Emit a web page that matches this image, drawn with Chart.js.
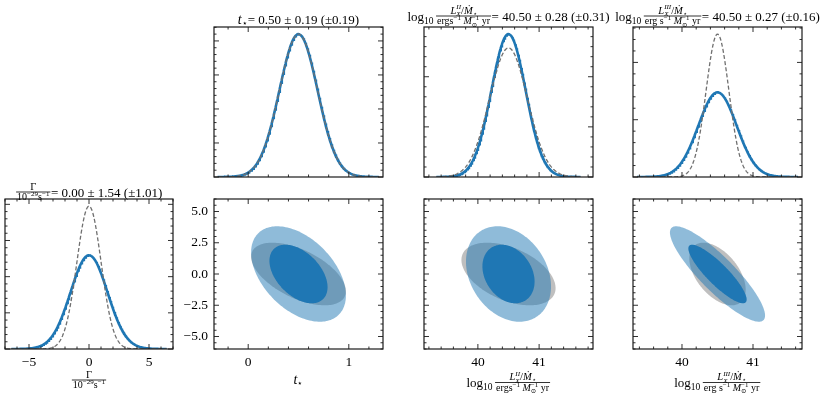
<!DOCTYPE html>
<html>
<head>
<meta charset="utf-8">
<script src="https://cdn.jsdelivr.net/npm/chart.js@4.4.1/dist/chart.umd.min.js"></script>
<style>
  body { margin: 0; background: #fff; }
  #wrap { position: relative; width: 822px; height: 401px; background: #fff; }
  #wrap canvas { position: absolute; left: 0; top: 0; pointer-events: none; }
</style>
</head>
<body>
<div id="wrap"></div>
<script>
// parameter order: Γ, t⋆, log L^II, log L^III
var fiducial   = [0.00, 0.50, 40.50, 40.50];
var sigmaSolid = [1.54, 0.19, 0.28, 0.27];   // blue, solid
var sigmaDash  = [1.01, 0.19, 0.31, 0.16];   // grey, dashed (value in brackets)
// correlation of Γ with t⋆, log L^II, log L^III
var rhoSolid = [-0.45, -0.26, -0.87];
var rhoDash  = [-0.55, -0.45, -0.50];
// axis ranges
var rangeX = [[-7.0, 7.0], [-0.34, 1.34], [39.12, 41.88], [39.31, 41.69]];
var rangeGammaY = [-6.0, 6.0];
// tick labels
var ticksGamma1D = [-5, 0, 5];
var ticksGamma2D = [-5, -2.5, 0, 2.5, 5];
var ticksT = [0, 1];
var ticksL = [40, 41];
var ticksPdf = [[0, 0.1, 0.2, 0.3, 0.4], [0, 0.5, 1, 1.5, 2], [0, 0.5, 1], [0, 1, 2]];

var W = 822, H = 401;
var SERIF = '"Liberation Serif", "DejaVu Serif", serif';
var BLUE = '#1f77b4';
var K1 = 1.52, K2 = 2.48;   // 1 and 2 sigma contours, 2 parameters

function gauss(m, s, span) {
  var pts = [], n = 240;
  for (var i = 0; i <= n; i++) {
    var x = m - span + 2 * span * i / n;
    pts.push({x: x, y: Math.exp(-0.5 * Math.pow((x - m) / s, 2)) / (s * Math.sqrt(2 * Math.PI))});
  }
  return pts;
}
function ellipse(mx, my, sx, sy, rho, k) {
  var pts = [], n = 160;
  for (var i = 0; i <= n; i++) {
    var t = 2 * Math.PI * i / n;
    pts.push({x: mx + k * sx * Math.cos(t),
              y: my + k * sy * (rho * Math.cos(t) + Math.sqrt(1 - rho * rho) * Math.sin(t))});
  }
  return pts;
}
function pdfTop(i) {
  return 1.05 / (Math.min(sigmaSolid[i], sigmaDash[i]) * Math.sqrt(2 * Math.PI));
}
function minus(s) { return String(s).replace('-', '\u2212'); }

// ---- little math text renderer
function fnt(s, it) { return (it ? 'italic ' : '') + s + 'px ' + SERIF; }
function R(t, s, o) { var r = {t: t, s: s}; for (var k in o) r[k] = o[k]; return r; }
function itemW(ctx, it) {
  if (it.frac) return Math.max(seqW(ctx, it.frac[0]), seqW(ctx, it.frac[1])) + 3;
  if (it.stack) return Math.max(itemW(ctx, it.stack[0]), itemW(ctx, it.stack[1]));
  if (it.gap) return it.gap;
  ctx.font = fnt(it.s, it.i);
  return ctx.measureText(it.t).width;
}
function seqW(ctx, seq) { var w = 0; seq.forEach(function(it) { w += itemW(ctx, it); }); return w; }
function drawItem(ctx, it, x, y) {
  var w = itemW(ctx, it);
  if (it.frac) {
    var bar = y - 4.5;
    var wn = seqW(ctx, it.frac[0]), wd = seqW(ctx, it.frac[1]);
    drawSeq(ctx, it.frac[0], x + (w - wn) / 2, bar - 2.5);
    drawSeq(ctx, it.frac[1], x + (w - wd) / 2, bar + 8);
    ctx.fillRect(x + 0.5, bar - 0.4, w - 1, 0.8);
  } else if (it.stack) {
    drawItem(ctx, it.stack[0], x, y);
    drawItem(ctx, it.stack[1], x, y);
  } else if (!it.gap) {
    ctx.font = fnt(it.s, it.i);
    ctx.fillText(it.t, x, y + (it.dy || 0));
  }
  return x + w;
}
function drawSeq(ctx, seq, x, y) { seq.forEach(function(it) { x = drawItem(ctx, it, x, y); }); return x; }

var SUP = -4;
var gammaFrac = {frac: [[R('\u0393', 10.5)],
  [R('10', 10), R('\u221229', 7, {dy: SUP}), R('s', 10), R('\u22121', 7, {dy: SUP})]]};
function lumLabel(roman, ergS) {
  return [R('log', 13), R('10', 9.5, {dy: 3}), {gap: 2}, {frac: [
    [R('L', 10.5, {i: 1}), {stack: [R(roman, 7, {i: 1, dy: -4.5}), R('X', 7, {i: 1, dy: 2.5})]},
     R('/', 10.5), R('\u1E40', 10.5, {i: 1}), R('\u22C6', 7, {dy: 2})],
    [R(ergS, 10), R('\u22121', 7, {dy: SUP}), {gap: 2.5}, R('M', 10, {i: 1}),
     {stack: [R('\u22121', 7, {dy: SUP}), R('\u2299', 6.5, {dy: 2.5})]}, {gap: 2.5}, R('yr', 10)]
  ]}];
}
var tLabel = [R('t', 14, {i: 1}), R('\u22C6', 8.5, {dy: 2})];
function valueText(i) {
  return R('= ' + fiducial[i].toFixed(2) + ' \u00B1 ' + sigmaSolid[i].toFixed(2) +
           ' (\u00B1' + sigmaDash[i].toFixed(2) + ')', 13);
}

// ---- plugins
var polyFill = {
  id: 'polyFill',
  beforeDatasetDraw: function(chart, args) {
    var ds = chart.data.datasets[args.index];
    if (!ds.polygon) return;
    var ctx = chart.ctx, a = chart.chartArea, pts = args.meta.data;
    ctx.save();
    ctx.beginPath(); ctx.rect(a.left, a.top, a.width, a.height); ctx.clip();
    ctx.beginPath();
    pts.forEach(function(p, i) { if (i) ctx.lineTo(p.x, p.y); else ctx.moveTo(p.x, p.y); });
    ctx.closePath();
    ctx.fillStyle = ds.backgroundColor;
    ctx.fill();
    ctx.restore();
    return false;
  }
};
function frameTicks(xMinor, yMinor) {
  return {
    id: 'frameTicks',
    afterDatasetsDraw: function(chart) {
      var ctx = chart.ctx, a = chart.chartArea, sx = chart.scales.x, sy = chart.scales.y;
      ctx.save();
      ctx.strokeStyle = '#1a1a1a';
      ctx.lineWidth = 0.9;
      ctx.beginPath();
      function xt(v, len) {
        var p = sx.getPixelForValue(v);
        ctx.moveTo(p, a.bottom); ctx.lineTo(p, a.bottom - len);
        ctx.moveTo(p, a.top); ctx.lineTo(p, a.top + len);
      }
      function yt(v, len) {
        var p = sy.getPixelForValue(v);
        ctx.moveTo(a.left, p); ctx.lineTo(a.left + len, p);
        ctx.moveTo(a.right, p); ctx.lineTo(a.right - len, p);
      }
      function minors(sc, step, fn) {
        var majors = sc.ticks.map(function(t) { return t.value; });
        for (var k = Math.ceil(sc.min / step); k * step <= sc.max; k++) {
          var v = k * step;
          if (!majors.some(function(m) { return Math.abs(m - v) < step * 1e-3; })) fn(v, 2.5);
        }
      }
      sx.ticks.forEach(function(t) { xt(t.value, 5); });
      sy.ticks.forEach(function(t) { yt(t.value, 5); });
      minors(sx, xMinor, xt);
      minors(sy, yMinor, yt);
      ctx.stroke();
      ctx.lineWidth = 1.2;
      ctx.strokeRect(a.left, a.top, a.width, a.height);
      ctx.restore();
    }
  };
}
function textLayer(texts) {
  return {
    id: 'textLayer',
    afterDraw: function(chart) {
      var ctx = chart.ctx;
      ctx.save();
      ctx.fillStyle = '#000';
      ctx.textBaseline = 'alphabetic';
      ctx.textAlign = 'left';
      texts.forEach(function(t) {
        drawSeq(ctx, t.seq, t.cx - seqW(ctx, t.seq) / 2, t.y);
      });
      ctx.restore();
    }
  };
}

var XAX_H = 30;   // room kept for the x tick labels
function axis(pos, range, ticks, show, fmt, size) {
  return {
    type: 'linear', position: pos, min: range[0], max: range[1],
    grid: {display: false, drawTicks: false},
    border: {display: false},
    afterBuildTicks: function(s) { s.ticks = ticks.map(function(v) { return {value: v}; }); },
    afterFit: function(s) { if (s.isHorizontal()) s.height = size; else s.width = size; },
    ticks: {display: show, padding: pos === 'left' ? 6 : 5, color: '#000', maxRotation: 0,
            autoSkip: false, font: {family: SERIF, size: 13.5},
            callback: function(v) { return fmt ? fmt(v) : v; }}
  };
}

function makeChart(box, cfg) {
  var cv = document.createElement('canvas');
  cv.width = W; cv.height = H;
  cv.style.width = W + 'px'; cv.style.height = H + 'px';
  document.getElementById('wrap').appendChild(cv);
  var yw = Math.min(box[0], 45);
  return new Chart(cv, {
    type: 'scatter',
    data: {datasets: cfg.datasets},
    options: {
      responsive: false, animation: false, events: [],
      layout: {padding: {left: box[0] - yw, top: box[1], right: W - box[2], bottom: H - box[3] - XAX_H}},
      plugins: {legend: {display: false}, tooltip: {enabled: false}},
      scales: {
        x: axis('bottom', cfg.x[0], cfg.x[1], cfg.x[2], cfg.x[3], XAX_H),
        y: axis('left', cfg.y[0], cfg.y[1], cfg.y[2], cfg.y[3], yw)
      }
    },
    plugins: [polyFill, frameTicks(cfg.xMinor, cfg.yMinor), textLayer(cfg.texts)]
  });
}

function curves(i) {
  var span = 4.2 * sigmaSolid[i];
  return [
    {data: gauss(fiducial[i], sigmaSolid[i], span), showLine: true, borderColor: BLUE,
     borderWidth: 2.6, pointRadius: 0, order: 2},
    {data: gauss(fiducial[i], sigmaDash[i], span), showLine: true, borderColor: '#707070',
     borderWidth: 1.3, borderDash: [4, 2.2], pointRadius: 0, order: 1}
  ];
}
function contours(j) {
  var mx = fiducial[j], my = fiducial[0];
  return [
    {data: ellipse(mx, my, sigmaDash[j], sigmaDash[0], rhoDash[j - 1], K2), polygon: true,
     backgroundColor: 'rgba(128,128,128,0.5)', pointRadius: 0, order: 3},
    {data: ellipse(mx, my, sigmaSolid[j], sigmaSolid[0], rhoSolid[j - 1], K2), polygon: true,
     backgroundColor: 'rgba(31,119,180,0.5)', pointRadius: 0, order: 2},
    {data: ellipse(mx, my, sigmaSolid[j], sigmaSolid[0], rhoSolid[j - 1], K1), polygon: true,
     backgroundColor: 'rgba(31,119,180,1)', pointRadius: 0, order: 1}
  ];
}

var cols = [[5, 173], [214, 383], [424, 593], [633, 802]];
var rowTop = [27, 177], rowBot = [199, 349];
var xTicks = [ticksGamma1D, ticksT, ticksL, ticksL];
var xMinor = [1, 0.2, 0.2, 0.2];
var yMinorPdf = [0.02, 0.1, 0.1, 0.2];
var xLabels = [[gammaFrac], tLabel, lumLabel('II', 'ergs'), lumLabel('III', 'erg s')];
var xLabelY = [384.5, 384, 387, 387];
var titleY = [196.5, 23.5, 20.5, 20.5];
function centre(c) { return (cols[c][0] + cols[c][1]) / 2; }

// 1-D panels: Γ at bottom left, the others across the top
[0, 1, 2, 3].forEach(function(i) {
  var row = i === 0 ? rowBot : rowTop;
  var title = (i === 0 ? [gammaFrac] : i === 1 ? tLabel.slice() : lumLabel(i === 2 ? 'II' : 'III', i === 2 ? 'ergs' : 'erg s'))
    .concat([valueText(i)]);
  var texts = [{seq: title, cx: centre(i), y: titleY[i]}];
  if (i === 0) texts.push({seq: xLabels[0], cx: centre(0), y: xLabelY[0]});
  makeChart([cols[i][0], row[0], cols[i][1], row[1]], {
    datasets: curves(i),
    x: [rangeX[i], xTicks[i], i === 0, minus],
    y: [[0, pdfTop(i)], ticksPdf[i], false, null],
    xMinor: xMinor[i], yMinor: yMinorPdf[i],
    texts: texts
  });
});

// 2-D panels: Γ against t⋆, log L^II, log L^III
[1, 2, 3].forEach(function(j) {
  makeChart([cols[j][0], rowBot[0], cols[j][1], rowBot[1]], {
    datasets: contours(j),
    x: [rangeX[j], xTicks[j], true, minus],
    y: [rangeGammaY, ticksGamma2D, j === 1, function(v) { return minus(v.toFixed(1)); }],
    xMinor: xMinor[j], yMinor: 0.5,
    texts: [{seq: xLabels[j], cx: centre(j), y: xLabelY[j]}]
  });
});
</script>
</body>
</html>
